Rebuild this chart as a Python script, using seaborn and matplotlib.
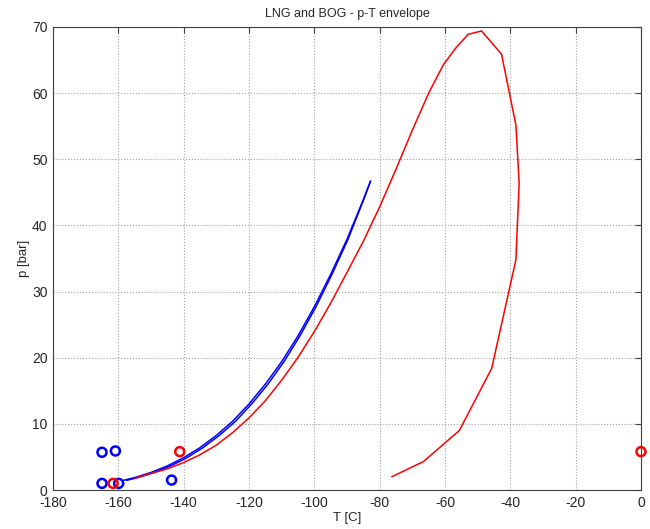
#!/usr/bin/env python3

import matplotlib
matplotlib.use('Agg')
import matplotlib.pyplot as plt
import numpy as np
import pandas as pd
import seaborn as sns

# LNG envelope (blue, two nearly identical runs)
lng_T_a = [-158.5, -155.0, -150.0, -145.0, -140.0, -135.0, -130.0, -125.0, -120.0,
           -115.0, -110.0, -105.0, -100.0, -95.0, -90.0, -85.0, -82.8]
lng_p_a = [1.45, 1.88, 2.65, 3.64, 4.88, 6.40, 8.25, 10.4, 13.0,
           16.0, 19.4, 23.3, 27.7, 32.6, 37.9, 43.9, 46.7]
lng_T_b = [-157.5, -154.0, -149.0, -144.0, -139.0, -134.1, -129.1, -124.1, -119.2,
           -114.2, -109.3, -104.4, -99.5, -94.6, -89.7, -84.9, -82.8]
lng_p_b = lng_p_a

# BOG envelope (red): bubble branch up to cricondenbar, then dew branch down
bog_T = [-154.9, -150.0, -145.0, -140.0, -135.0, -130.0, -125.0, -120.0, -115.0,
         -110.0, -105.0, -100.0, -95.0, -90.0, -85.0, -80.0, -75.0, -70.0,
         -65.0, -60.5, -56.9, -52.9, -48.8,
         -42.7, -38.3, -37.3, -38.3, -45.7, -55.6, -66.6, -76.3]
bog_p = [1.8, 2.5, 3.2, 4.15, 5.33, 6.78, 8.68, 10.9, 13.5,
         16.6, 20.05, 23.95, 28.25, 32.9, 37.6, 42.8, 48.5, 54.4,
         60.0, 64.3, 66.7, 68.9, 69.4,
         65.9, 55.2, 46.4, 34.8, 18.4, 9.0, 4.3, 2.0]

# measured states
blue_pts_T = [-165.0, -160.9, -165.0, -159.9, -143.7]
blue_pts_p = [5.7, 5.9, 1.0, 1.0, 1.5]
red_pts_T = [-161.6, -141.2, 0.0]
red_pts_p = [1.0, 5.8, 5.8]

sns.set_style('white')
plt.rcParams['font.family'] = ['Liberation Sans', 'DejaVu Sans']
plt.rcParams['font.size'] = 10
plt.rcParams['axes.unicode_minus'] = False

fig = plt.figure(figsize=(6.5, 5.29), dpi=100)
ax = fig.add_axes([53/650, 39/529, 588/650, 463/529])

line_kw = dict(sort=False, estimator=None, linewidth=1.1, ax=ax, legend=False)
sns.lineplot(x=lng_T_a, y=lng_p_a, color='#0000ff', **line_kw)
sns.lineplot(x=lng_T_b, y=lng_p_b, color='#0000ff', **line_kw)
sns.lineplot(x=bog_T, y=bog_p, color='#ff0000', **line_kw)

pt_kw = dict(marker='o', s=42, facecolor='none', linewidth=1.8, ax=ax, zorder=5, clip_on=False)
sns.scatterplot(x=blue_pts_T, y=blue_pts_p, color='#0000ff', edgecolor='#0000ff', **pt_kw)
sns.scatterplot(x=red_pts_T, y=red_pts_p, color='#ff0000', edgecolor='#ff0000', **pt_kw)

ax.set_xlim(-180, 0)
ax.set_ylim(0, 70)
ax.set_xticks(np.arange(-180, 1, 20))
ax.set_yticks(np.arange(0, 71, 10))
ax.grid(True, linestyle=':', color='#a0a0a0', linewidth=0.8)
ax.tick_params(direction='in', length=4, top=True, right=True, color='#404040',
               labelsize=10, pad=4)
for s in ax.spines.values():
    s.set_color('#404040')
    s.set_linewidth(0.8)

ax.set_title('LNG and BOG - p-T envelope', fontsize=9, pad=7)
ax.set_xlabel('T [C]', fontsize=9.5, labelpad=2)
ax.set_ylabel('p [bar]', fontsize=9.5, labelpad=1)

fig.savefig('out.png', dpi=100)
